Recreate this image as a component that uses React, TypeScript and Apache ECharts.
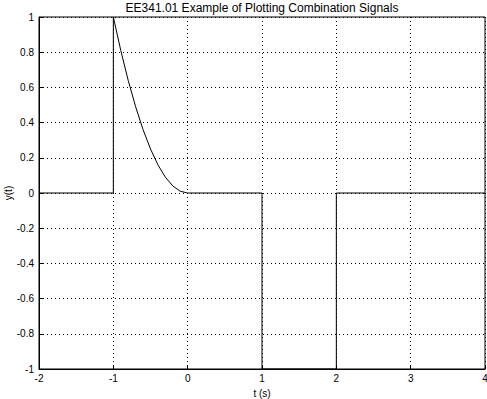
import React, { useEffect, useRef } from "react";
import * as echarts from "echarts";

const titleText = "EE341.01 Example of Plotting Combination Signals";
const xLabel = "t (s)";
const yLabel = "y(t)";
// signal points [t, y]
const tValues = [-2, -1, -1, -0.9, -0.8, -0.7, -0.6, -0.5, -0.4, -0.3, -0.2, -0.1, 0, 1, 1, 2, 2, 4];
const yValues = [0, 0, 1, 0.81, 0.64, 0.49, 0.36, 0.25, 0.16, 0.09, 0.04, 0.01, 0, 0, -1, -1, 0, 0];

const FONT = "Liberation Sans, Arial, sans-serif";

export default function App() {
  const ref = useRef<HTMLDivElement>(null);
  useEffect(() => {
    const chart = echarts.init(ref.current!, null, { renderer: "svg" });
    const data = tValues.map((t, i) => [t, yValues[i]]);
    chart.setOption({
      animation: false,
      backgroundColor: "#fff",
      graphic: [
        {
          type: "text",
          x: 262,
          y: 8,
          style: {
            text: titleText,
            fontFamily: FONT,
            fontSize: 12,
            fill: "#000",
            align: "center",
            verticalAlign: "middle",
          },
        },
        {
          type: "text",
          x: 8,
          y: 193,
          rotation: Math.PI / 2,
          style: {
            text: yLabel,
            fontFamily: FONT,
            fontSize: 10,
            fill: "#000",
            align: "center",
            verticalAlign: "middle",
          },
        },
      ],
      grid: {
        left: 39,
        right: 2,
        top: 17,
        bottom: 30,
        outerBoundsMode: "none",
        containLabel: false,
        show: true,
        borderColor: "#000",
        borderWidth: 1,
        backgroundColor: "transparent",
      },
      xAxis: {
        type: "value",
        min: -2,
        max: 4,
        interval: 1,
        name: xLabel,
        nameLocation: "middle",
        nameGap: 19,
        nameTextStyle: { fontFamily: FONT, fontSize: 10, color: "#000" },
        axisLine: { show: true, onZero: false, lineStyle: { color: "#000" } },
        axisTick: { show: true, inside: true, length: 4, lineStyle: { color: "#000" } },
        axisLabel: { fontFamily: FONT, fontSize: 10, color: "#000", margin: 4 },
        splitLine: { show: true, lineStyle: { color: "#000", type: [1, 3], width: 1 } },
      },
      yAxis: {
        type: "value",
        min: -1,
        max: 1,
        interval: 0.2,
        axisLine: { show: true, onZero: false, lineStyle: { color: "#000" } },
        axisTick: { show: true, inside: true, length: 4, lineStyle: { color: "#000" } },
        axisLabel: {
          fontFamily: FONT,
          fontSize: 10,
          color: "#000",
          margin: 5,
          formatter: (v: number) => String(Math.round(v * 10) / 10),
        },
        splitLine: { show: true, lineStyle: { color: "#000", type: [1, 3], width: 1 } },
      },
      series: [
        {
          type: "line",
          data,
          showSymbol: false,
          symbol: "none",
          lineStyle: { color: "#000", width: 1 },
        },
      ],
    });
    return () => chart.dispose();
  }, []);
  return <div ref={ref} style={{ width: 487, height: 399, position: "absolute", left: 0, top: 0 }} />;
}
